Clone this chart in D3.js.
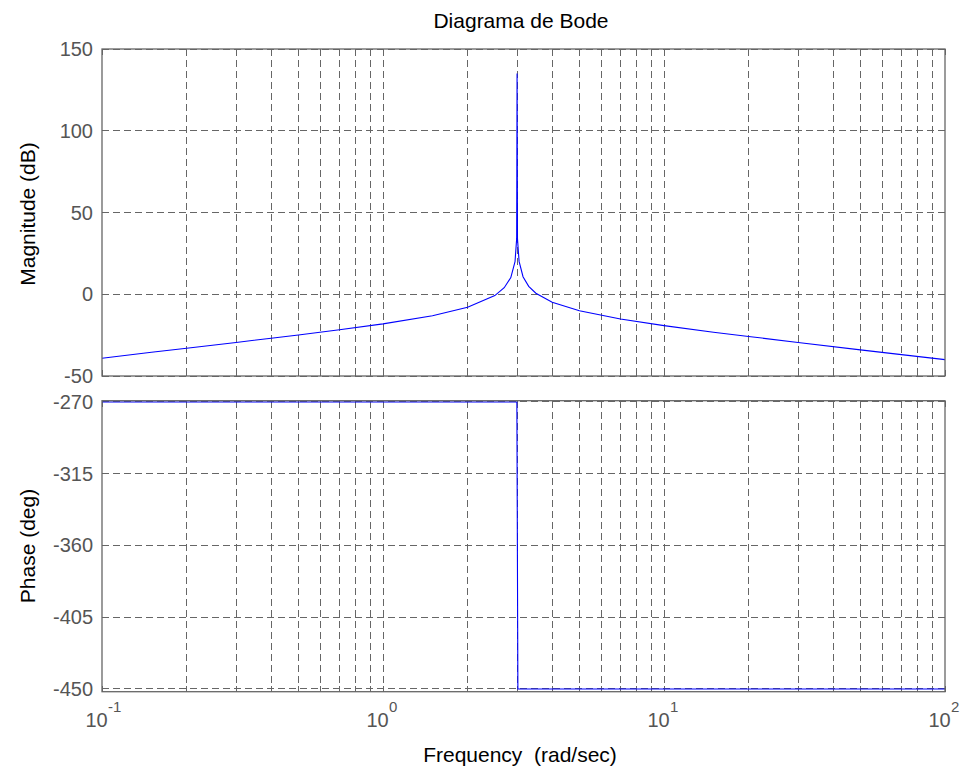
<!DOCTYPE html>
<html><head><meta charset="utf-8">
<script src="https://cdn.jsdelivr.net/npm/d3@7"></script>
<style>body{margin:0;background:#fff}svg{display:block}text{font-family:Arial,"Liberation Sans",sans-serif;white-space:pre}</style>
</head><body><svg id="c" width="964" height="772"></svg>
<script>
// Data
const magFreq = [0.1,0.15,0.2,0.3,0.4,0.5,0.7,1,1.5,2,2.5,2.7,2.85,2.95,2.99,3.0,3.01,3.05,3.15,3.3,3.5,4,5,7,10,15,20,30,50,70,100];
const magDb   = [-39.1,-35.5,-33.0,-29.5,-26.9,-24.9,-21.7,-18.1,-13.1,-8.0,-0.8,4.0,10.2,19.9,34.0,135,34.0,20.1,10.7,4.8,0.6,-4.9,-10.1,-15.1,-19.2,-23.2,-25.8,-29.5,-34.0,-36.9,-40.0];
const phaseFreq = [0.1,2.995,3.02,100];
const phaseDeg  = [-270,-270,-450,-450];
const magTicks = [-50,0,50,100,150];
const phaseTicks = [-450,-405,-360,-315,-270];
const decades = [-1,0,1,2];
const title = "Diagrama de Bode";
const xLabel = "Frequency  (rad/sec)";
const magLabel = "Magnitude (dB)";
const phaseLabel = "Phase (deg)";

const svg = d3.select("#c");
const L = 102, R = 945;
const x = d3.scaleLog().domain([0.1,100]).range([L,R]);
const yM = d3.scaleLinear().domain([-50,150]).range([376,49]);
const yP = d3.scaleLinear().domain([-451.7,-269.2]).range([691.7,400.7]);

const minor = [];
for (let d=-1; d<2; d++) for (let k=1;k<10;k++) minor.push(k*Math.pow(10,d));
minor.push(100);
const axisCol = "#666", gridCol = "#666", labCol = "#555";

function panel(y, yticks, top, bottom, label, labelY, data) {
  const g = svg.append("g");
  g.selectAll(".gx").data(minor.filter(v=>v>0.1 && v<100)).enter().append("line")
    .attr("x1",d=>x(d)).attr("x2",d=>x(d)).attr("y1",top).attr("y2",bottom)
    .attr("stroke",gridCol).attr("stroke-width",1).attr("stroke-dasharray","7,4").attr("shape-rendering","crispEdges");
  g.selectAll(".gy").data(yticks).enter().append("line")
    .attr("x1",L).attr("x2",R).attr("y1",d=>y(d)).attr("y2",d=>y(d))
    .attr("stroke",gridCol).attr("stroke-width",1).attr("stroke-dasharray","7,4").attr("shape-rendering","crispEdges");
  g.selectAll(".tb").data(minor).enter().append("line")
    .attr("x1",d=>x(d)).attr("x2",d=>x(d)).attr("y1",bottom).attr("y2",bottom-6)
    .attr("stroke",axisCol).attr("shape-rendering","crispEdges");
  g.selectAll(".tt").data(minor).enter().append("line")
    .attr("x1",d=>x(d)).attr("x2",d=>x(d)).attr("y1",top).attr("y2",top+6)
    .attr("stroke",axisCol).attr("shape-rendering","crispEdges");
  g.selectAll(".tl").data(yticks).enter().append("line")
    .attr("x1",L).attr("x2",L+6).attr("y1",d=>y(d)).attr("y2",d=>y(d))
    .attr("stroke",axisCol).attr("shape-rendering","crispEdges");
  g.selectAll(".tr").data(yticks).enter().append("line")
    .attr("x1",R).attr("x2",R-6).attr("y1",d=>y(d)).attr("y2",d=>y(d))
    .attr("stroke",axisCol).attr("shape-rendering","crispEdges");
  const line = d3.line().x(d=>x(d[0])).y(d=>y(d[1]));
  g.append("path").datum(data).attr("d",line).attr("fill","none").attr("stroke","#0000ff").attr("stroke-width",1.1);
  g.append("rect").attr("x",L).attr("y",top).attr("width",R-L).attr("height",bottom-top)
    .attr("fill","none").attr("stroke",axisCol).attr("stroke-width",1.3);
  g.selectAll(".yl").data(yticks).enter().append("text")
    .attr("x",93).attr("y",d=>y(d)+7).attr("text-anchor","end")
    .attr("font-size",20).attr("fill",labCol).text(d=>d);
  svg.append("text").attr("transform",`translate(35,${labelY}) rotate(-90)`)
    .attr("text-anchor","middle").attr("font-size",21).attr("fill","#000").text(label);
}

panel(yM, magTicks, 49, 376, magLabel, 214, magFreq.map((f,i)=>[f,magDb[i]]));
panel(yP, phaseTicks, 400.7, 691.7, phaseLabel, 546, phaseFreq.map((f,i)=>[f,phaseDeg[i]]));

const xl = svg.selectAll(".xl").data(decades).enter().append("g")
  .attr("transform",d=>`translate(${x(Math.pow(10,d))},0)`);
xl.append("text").attr("x",-5.5).attr("y",727).attr("text-anchor","middle")
  .attr("font-size",20).attr("fill",labCol).text("10");
xl.append("text").attr("x",6).attr("y",712).attr("text-anchor","start")
  .attr("font-size",15).attr("fill",labCol).text(d=>d);

svg.append("text").attr("x",521).attr("y",28).attr("text-anchor","middle")
  .attr("font-size",21).attr("fill","#000").text(title);
svg.append("text").attr("x",520).attr("y",762).attr("text-anchor","middle")
  .attr("font-size",21).attr("fill","#000").text(xLabel);
</script></body></html>
